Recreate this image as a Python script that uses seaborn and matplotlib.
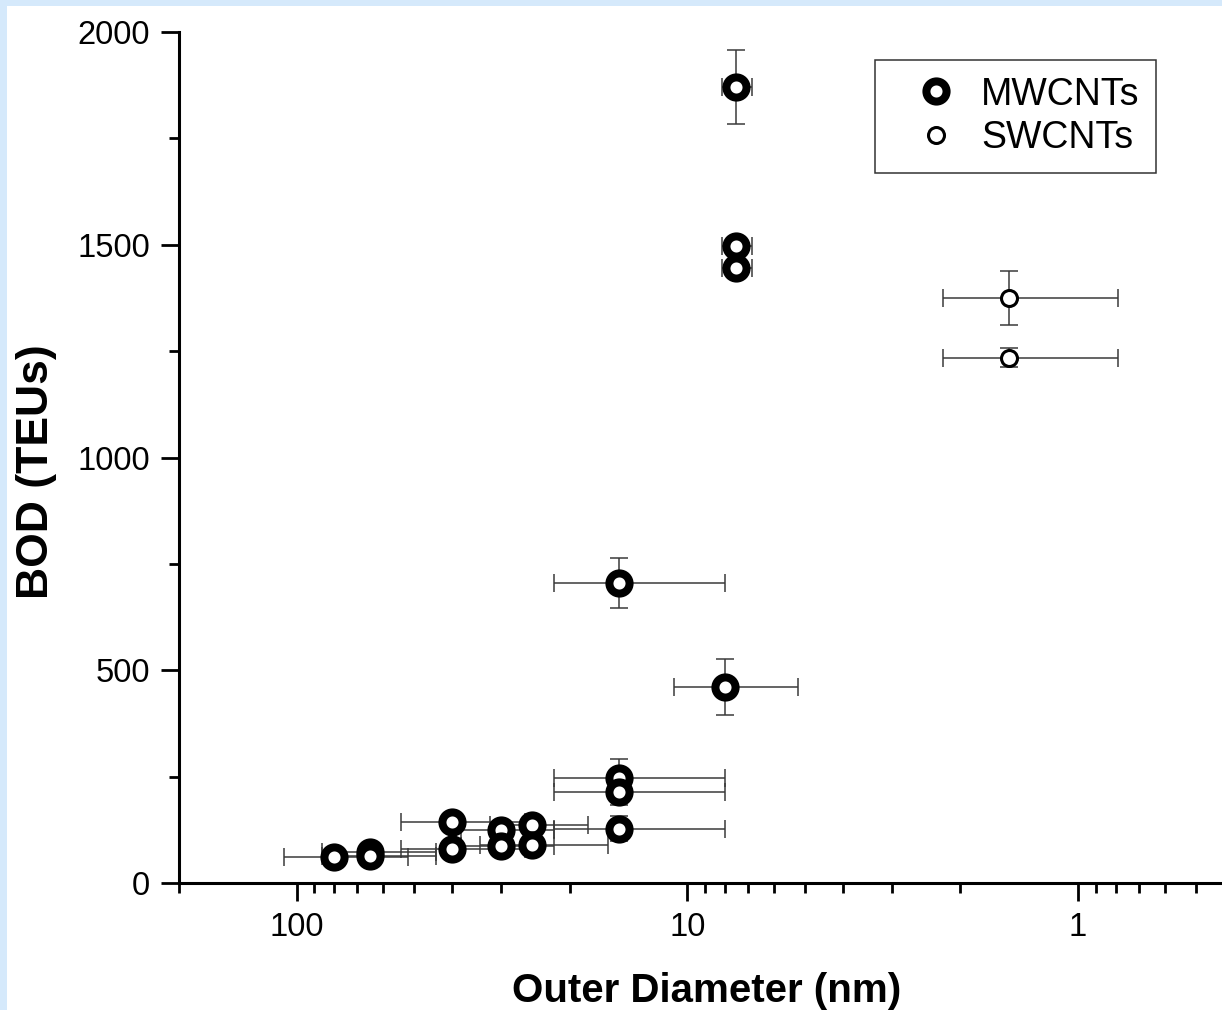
import numpy as np
import pandas as pd
import matplotlib
matplotlib.use("Agg")
import matplotlib.pyplot as plt
from matplotlib.lines import Line2D
from matplotlib.patches import Rectangle
from matplotlib.ticker import LogLocator, FixedLocator, MultipleLocator, NullFormatter, FuncFormatter
import seaborn as sns

# Multi-walled carbon nanotubes: outer diameter (nm) and BOD (TEUs) with errors
mw_diameter = [7.5, 7.5, 7.5, 15, 8, 15, 15, 15, 40, 40, 30, 30, 25, 25, 80, 65, 65]
mw_diameter_err = [0.65, 0.65, 0.65, 7, 2.8, 7, 7, 7, 14, 14, 8, 8, 7, 9, 28, 21, 21]
mw_bod = [1871, 1496, 1445, 705, 461, 246, 214, 128, 144, 79, 125, 87, 136, 89, 60, 74, 64]
mw_bod_err = [87, 20, 20, 58, 65, 45, 30, 30, 12, 12, 12, 10, 12, 10, 10, 10, 10]

# Single-walled carbon nanotubes
sw_diameter = [1.5, 1.5]
sw_diameter_err = [0.71, 0.71]
sw_bod = [1375, 1235]
sw_bod_err = [64, 22]

series_labels = ["MWCNTs", "SWCNTs"]
x_tick_values = [100, 10, 1]
x_tick_labels = ["100", "10", "1"]
y_tick_values = [0, 500, 1000, 1500, 2000]

sns.set_style("ticks")
plt.rcParams["font.family"] = ["Liberation Sans", "DejaVu Sans"]
plt.rcParams["text.color"] = "black"
plt.rcParams["axes.labelcolor"] = "black"
plt.rcParams["xtick.color"] = "black"
plt.rcParams["ytick.color"] = "black"

mw = pd.DataFrame({"d": mw_diameter, "d_err": mw_diameter_err,
                   "bod": mw_bod, "bod_err": mw_bod_err})
sw = pd.DataFrame({"d": sw_diameter, "d_err": sw_diameter_err,
                   "bod": sw_bod, "bod_err": sw_bod_err})

W, H = 1222, 1010
fig = plt.figure(figsize=(W / 100, H / 100), dpi=100)
fig.patch.set_facecolor("#d5e9fb")
fig.add_artist(Rectangle((7 / W, 0), 1, 1 - 6 / H, transform=fig.transFigure,
                         facecolor="white", edgecolor="none", zorder=0))

ax = fig.add_axes([179 / W, 1 - 883 / H, 1 - 179 / W, 851 / H])
ax.set_facecolor("white")
ax.patch.set_alpha(0)

err_kw = dict(fmt="none", ecolor="#3a3a3a", elinewidth=1.1, capsize=6.5,
              capthick=1.1, zorder=2)
ax.errorbar(mw["d"], mw["bod"], xerr=mw["d_err"], yerr=mw["bod_err"], **err_kw)
ax.errorbar(sw["d"], sw["bod"], xerr=sw["d_err"], yerr=sw["bod_err"], **err_kw)

sns.scatterplot(data=mw, x="d", y="bod", ax=ax, marker="o", s=14.5 ** 2,
                color="white", edgecolor="black", linewidth=5.8, zorder=3, legend=False)
sns.scatterplot(data=sw, x="d", y="bod", ax=ax, marker="o", s=11.5 ** 2,
                color="white", edgecolor="black", linewidth=2.2, zorder=3, legend=False)

ax.set_xscale("log")
ax.set_xlim(200, 0.428)
ax.set_ylim(0, 2000)

ax.xaxis.set_major_locator(FixedLocator(x_tick_values))
ax.xaxis.set_major_formatter(FuncFormatter(
    lambda v, p: x_tick_labels[x_tick_values.index(v)] if v in x_tick_values else ""))
ax.xaxis.set_minor_locator(LogLocator(base=10, subs=np.arange(2, 10), numticks=20))
ax.xaxis.set_minor_formatter(NullFormatter())
ax.yaxis.set_major_locator(FixedLocator(y_tick_values))
ax.yaxis.set_minor_locator(MultipleLocator(250))

for side in ("top", "right"):
    ax.spines[side].set_visible(False)
for side in ("left", "bottom"):
    ax.spines[side].set_linewidth(2.2)
    ax.spines[side].set_color("black")

ax.tick_params(which="major", direction="out", length=13, width=2.0,
               labelsize=23.5, pad=8, color="black", labelcolor="black")
ax.tick_params(which="minor", direction="out", length=7, width=2.0, color="black")

ax.set_xlabel("Outer Diameter (nm)", fontsize=29, fontweight="bold", color="black")
ax.set_ylabel("BOD (TEUs)", fontsize=32, fontweight="bold", color="black")
ax.xaxis.set_label_coords(0.506, -0.104)
ax.yaxis.set_label_coords(-0.117, 0.483)
ax.xaxis.label.set_va("top")

handles = [
    Line2D([], [], linestyle="none", marker="o", markersize=14.5, markerfacecolor="white",
           markeredgecolor="black", markeredgewidth=5.8),
    Line2D([], [], linestyle="none", marker="o", markersize=11.5, markerfacecolor="white",
           markeredgecolor="black", markeredgewidth=2.2),
]
leg = ax.legend(handles, series_labels, loc="upper right", bbox_to_anchor=(0.937, 0.967),
                borderaxespad=0, fontsize=27, frameon=True, fancybox=False,
                borderpad=0.44, handlelength=2.4, handletextpad=0.0, labelspacing=0.2)
for t in leg.get_texts():
    t.set_color("black")
leg.get_frame().set_edgecolor("#333333")
leg.get_frame().set_linewidth(1.1)
leg.get_frame().set_facecolor("white")
leg.get_frame().set_alpha(1)

fig.savefig("out.png", dpi=100, facecolor=fig.get_facecolor())
